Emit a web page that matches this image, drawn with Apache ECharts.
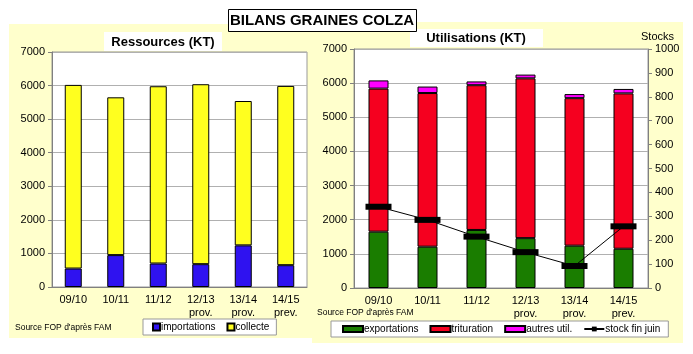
<!DOCTYPE html>
<html>
<head>
<meta charset="utf-8">
<script src="https://cdn.jsdelivr.net/npm/echarts@6/dist/echarts.min.js"></script>
<style>
  html, body { margin: 0; padding: 0; background: #fff; }
  #chart { width: 693px; height: 354px; }
</style>
</head>
<body>
<div id="chart"></div>
<script>
// campagnes
const categories = ['09/10', '10/11', '11/12', '12/13\nprov.', '13/14\nprov.', '14/15\nprev.'];

// Ressources (KT)
const importations = [550, 950, 700, 680, 1240, 650];
const collecte = [5470, 4700, 5280, 5360, 4300, 5340];

// Utilisations (KT)
const exportations = [1650, 1210, 1700, 1460, 1240, 1150];
const trituration = [4190, 4500, 4240, 4680, 4320, 4550];
const autresUtil = [240, 190, 110, 110, 120, 130];
const stockFinJuin = [340, 285, 215, 150, 92, 258];

const leftTicks = [0, 1000, 2000, 3000, 4000, 5000, 6000, 7000];
const stockTicks = [0, 100, 200, 300, 400, 500, 600, 700, 800, 900, 1000];

const font = 'Liberation Sans, Arial, sans-serif';
const axisGray = '#808080';

const chart = echarts.init(document.getElementById('chart'), null, { renderer: 'canvas' });

const valueAxis = (gridIndex, ticks, position) => ({
  type: 'value',
  gridIndex,
  position,
  min: ticks[0],
  max: ticks[ticks.length - 1],
  interval: ticks[1] - ticks[0],
  axisLine: { show: true, lineStyle: { color: axisGray } },
  axisTick: { show: true, length: 4, lineStyle: { color: axisGray } },
  axisLabel: { color: '#000', fontSize: 11, fontFamily: font, margin: 7, formatter: (v) => String(v) },
  splitLine: { show: position === 'left', lineStyle: { color: '#b0b0b0' } },
});

const catAxis = (gridIndex) => ({
  type: 'category',
  gridIndex,
  data: categories,
  axisLine: { lineStyle: { color: axisGray } },
  axisTick: { length: 4, lineStyle: { color: axisGray } },
  axisLabel: { color: '#000', fontSize: 11, fontFamily: font, lineHeight: 13, margin: 6 },
});

const barBorder = { borderColor: '#000', borderWidth: 1 };

chart.setOption({
  backgroundColor: '#fff',
  animation: false,
  textStyle: { fontFamily: font },
  graphic: [
    { type: 'rect', shape: { x: 9, y: 24, width: 303, height: 314 }, style: { fill: '#ffffcc' }, z: -10 },
    { type: 'rect', shape: { x: 312, y: 22, width: 371, height: 321 }, style: { fill: '#ffffcc' }, z: -10 },
    { type: 'rect', shape: { x: 104, y: 32, width: 118, height: 19 }, style: { fill: '#fff' }, z: -5 },
    { type: 'rect', shape: { x: 410, y: 29, width: 133, height: 18 }, style: { fill: '#fff' }, z: -5 },
    { type: 'rect', shape: { x: 228.5, y: 9.5, width: 188, height: 22 }, style: { fill: '#fff', stroke: '#000', lineWidth: 1 }, z: 10 },
    { type: 'text', x: 322, y: 21, style: { text: 'BILANS GRAINES COLZA', font: 'bold 15px ' + font, fill: '#000', textAlign: 'center', textVerticalAlign: 'middle' }, z: 11 },
    { type: 'text', x: 163, y: 42, style: { text: 'Ressources (KT)', font: 'bold 13px ' + font, fill: '#000', textAlign: 'center', textVerticalAlign: 'middle' } },
    { type: 'text', x: 476, y: 38, style: { text: 'Utilisations (KT)', font: 'bold 13px ' + font, fill: '#000', textAlign: 'center', textVerticalAlign: 'middle' } },
    { type: 'text', x: 674, y: 37, style: { text: 'Stocks', font: '11px ' + font, fill: '#000', textAlign: 'right', textVerticalAlign: 'middle' } },
    { type: 'text', x: 15, y: 328, style: { text: "Source FOP d'après FAM", font: '8.5px ' + font, fill: '#000', textVerticalAlign: 'middle' } },
    { type: 'text', x: 317, y: 313, style: { text: "Source FOP d'après FAM", font: '8.5px ' + font, fill: '#000', textVerticalAlign: 'middle' } },
  ],
  grid: [
    { left: 52, top: 52, width: 255, height: 235, show: true, backgroundColor: '#fff', borderColor: '#999', borderWidth: 1 },
    { left: 354, top: 49, width: 294, height: 239, show: true, backgroundColor: '#fff', borderColor: '#999', borderWidth: 1 },
  ],
  xAxis: [catAxis(0), catAxis(1)],
  yAxis: [
    valueAxis(0, leftTicks, 'left'),
    valueAxis(1, leftTicks, 'left'),
    valueAxis(1, stockTicks, 'right'),
  ],
  legend: [
    {
      data: [{ name: 'importations', icon: 'rect' }, { name: 'collecte', icon: 'rect' }],
      left: 143, top: 319, width: 200,
      itemWidth: 7, itemHeight: 7, itemGap: 11,
      padding: [3, 7, 3, 9],
      backgroundColor: '#fff', borderColor: '#999', borderWidth: 1, borderRadius: 0,
      textStyle: { fontSize: 10, color: '#000', padding: [0, 0, 0, -4] },
    },
    {
      data: [
        { name: 'exportations', icon: 'rect' },
        { name: 'trituration', icon: 'rect' },
        { name: 'autres util.', icon: 'rect' },
        { name: 'stock fin juin' },
      ],
      left: 331, top: 321, width: 360,
      itemWidth: 20, itemHeight: 6, itemGap: 11,
      padding: [3, 8, 3, 11],
      backgroundColor: '#fff', borderColor: '#999', borderWidth: 1, borderRadius: 0,
      textStyle: { fontSize: 10, color: '#000', padding: [0, 0, 0, -4] },
    },
  ],
  series: [
    { name: 'importations', type: 'bar', stack: 'res', xAxisIndex: 0, yAxisIndex: 0, barWidth: 17,
      itemStyle: { color: '#2f12f0', ...barBorder }, data: importations },
    { name: 'collecte', type: 'bar', stack: 'res', xAxisIndex: 0, yAxisIndex: 0, barWidth: 17,
      itemStyle: { color: '#ffff1f', ...barBorder }, data: collecte },
    { name: 'exportations', type: 'bar', stack: 'uti', xAxisIndex: 1, yAxisIndex: 1, barWidth: 20,
      itemStyle: { color: '#1a7d00', ...barBorder }, data: exportations },
    { name: 'trituration', type: 'bar', stack: 'uti', xAxisIndex: 1, yAxisIndex: 1, barWidth: 20,
      itemStyle: { color: '#f5001f', ...barBorder }, data: trituration },
    { name: 'autres util.', type: 'bar', stack: 'uti', xAxisIndex: 1, yAxisIndex: 1, barWidth: 20,
      itemStyle: { color: '#ff00ff', ...barBorder }, data: autresUtil },
    { name: 'stock fin juin', type: 'line', xAxisIndex: 1, yAxisIndex: 2, z: 5,
      symbol: 'rect', symbolSize: [26, 6],
      itemStyle: { color: '#000' }, lineStyle: { color: '#000', width: 1 },
      data: stockFinJuin },
  ],
});
</script>
</body>
</html>
